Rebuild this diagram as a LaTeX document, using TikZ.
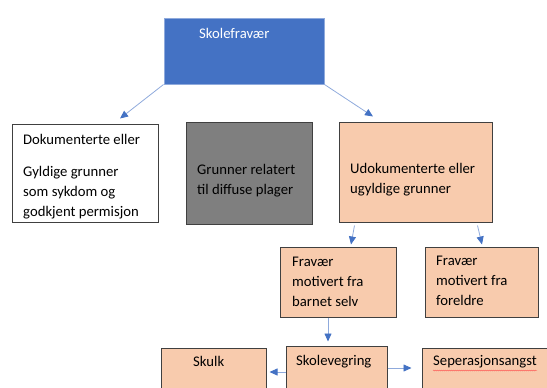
\documentclass[tikz,border=0pt]{standalone}
\usepackage{fontspec}
\setmainfont{Carlito}
\usepackage{tikz}
\usetikzlibrary{arrows.meta,calc,decorations.pathmorphing}

\definecolor{boxblue}{HTML}{4472C4}
\definecolor{lineblue}{HTML}{8FAADC}
\definecolor{peach}{HTML}{F8CBAD}
\definecolor{diffgrey}{HTML}{7F7F7F}
\definecolor{edgegrey}{HTML}{404040}

\begin{document}
\begin{tikzpicture}[x=1pt,y=-1pt]
 % Box style
\tikzset{
    box/.style={draw=edgegrey, line width=1pt, inner sep=0pt},
    peachbox/.style={box, fill=peach},
    txt/.style={anchor=north west, inner sep=0pt, align=left, font=\fontsize{14.7}{20}\selectfont},
    arr/.style={draw=lineblue, line width=0.8pt, -{Triangle[length=8pt,width=7pt,color=boxblue]}}
}
\clip (0,0) rectangle (547,388);

% Boxes
\node[box, draw=lineblue, fill=boxblue, minimum width=160pt, minimum height=66pt] (SKOLE) at (244,51){};
\node[box, fill=white, minimum width=146pt, minimum height=98pt] (DOK) at (85,173){};
\node[box, fill=diffgrey, minimum width=126pt, minimum height=102pt] (DIFF) at (249,173){};
\node[peachbox, minimum width=153pt, minimum height=100pt] (UDOK) at (415.5,172){};
\node[peachbox, minimum width=116pt, minimum height=70pt] (BARN) at (338,282){};
\node[peachbox, minimum width=113pt, minimum height=70pt] (FORELDRE) at (481.5,282){};
\node[peachbox, minimum width=101pt, minimum height=64pt] (VEGRING) at (336.5,378){};
\node[peachbox, minimum width=105pt, minimum height=62pt] (SKULK) at (213.5,379){};
\node[peachbox, minimum width=148pt, minimum height=62pt] (ANGST) at (496,379){};

% Texts
\node[txt, text=white] (SKOLE-T) at (199,28.5){Skolefravær};
\node[txt] (DOK-T) at (23,134.5){Dokumenterte eller\\[12pt]Gyldige grunner\\som sykdom og\\godkjent permisjon};
\node[txt] (DIFF-T) at (197,164.5){Grunner relatert\\til diffuse plager};
\node[txt] (UDOK-T) at (350,163){Udokumenterte eller\\ugyldige grunner};
\node[txt] (BARN-T) at (292,256.5){Fravær\\motivert fra\\barnet selv};
\node[txt] (FORELDRE-T) at (436,255.5){Fravær\\motivert fra\\foreldre};
\node[txt] (VEGRING-T) at (296,355.5){Skolevegring};
\node[txt] (SKULK-T) at (193,356.5){Skulk};
\node[txt] (ANGST-T) at (433,355.5){Seperasjonsangst};
\draw[red!70, line width=0.4pt, decorate, decoration={snake, amplitude=0.5pt, segment length=2pt}]
    ($(ANGST-T.south west)+(0,2)$) -- ($(ANGST-T.south east)+(0,2)$);

% Connectors
\draw[arr] (SKOLE.south west) -- ($(DOK.north)+(35,-5)$);
\draw[arr] (SKOLE.south east) -- ($(UDOK.north)+(-42.5,-5)$);
\draw[arr] ($(UDOK.south)+(-61,3)$) -- ($(BARN.north)+(13,-2)$);
\draw[arr] ($(UDOK.south)+(62,3)$) -- ($(FORELDRE.north)+(0.5,-2)$);
\draw[arr] ($(BARN.south)+(-10,0)$) -- ($(VEGRING.north)+(-8.5,-4)$);
\draw[arr] ($(VEGRING.west)+(0,-6)$) -- ($(SKULK.east)+(3,-7)$);
\draw[arr] ($(VEGRING.east)+(0,-10)$) -- ($(ANGST.west)+(-10,-11)$);
\end{tikzpicture}
\end{document}
